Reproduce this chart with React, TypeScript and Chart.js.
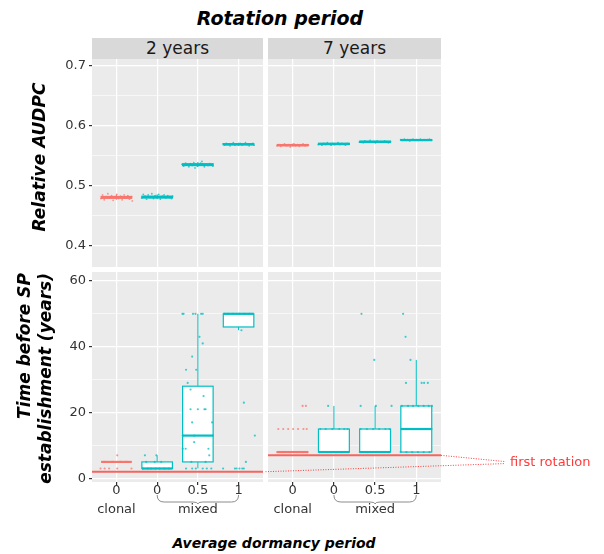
import React, { useEffect, useRef } from "react";
import { Chart, registerables } from "chart.js";

Chart.register(...registerables);

const RED = "#F8766D";
const TEAL = "#00BFC4";
const RED_PT = "rgba(248,118,109,0.75)";
const TEAL_PT = "rgba(0,191,196,0.75)";
const FONT = "'DejaVu Sans', sans-serif";

// ---------- categories / ticks ----------
const categories = [0, 1, 2, 3];
const xTickLabels: (string | string[])[] = [["0", "clonal"], ["0"], ["0.5", "mixed"], ["1"]];
const groupColors = [RED, TEAL, TEAL, TEAL];
const audpcTicks = [0.4, 0.45, 0.5, 0.55, 0.6, 0.65, 0.7];
const audpcMajor = [0.4, 0.5, 0.6, 0.7];
const timeTicks = [0, 10, 20, 30, 40, 50, 60];
const timeMajor = [0, 20, 40, 60];
const firstRotation2 = 2;
const firstRotation7 = 7;

// ---------- Relative AUDPC, 2 years ----------
const audpc2Median = [0.48, 0.4805, 0.5345, 0.5685];
const audpc2Q1 = [0.4785, 0.479, 0.533, 0.5675];
const audpc2Q3 = [0.4815, 0.482, 0.536, 0.5695];
const audpc2Low = [0.476, 0.477, 0.531, 0.566];
const audpc2High = [0.485, 0.485, 0.539, 0.571];
const audpc2Clonal: [number, number][] = [
  [-0.38, 0.478], [-0.34, 0.484], [-0.3, 0.476], [-0.25, 0.481], [-0.21, 0.486], [-0.17, 0.479],
  [-0.12, 0.483], [-0.08, 0.475], [-0.03, 0.481], [0.01, 0.485], [0.05, 0.478], [0.1, 0.482],
  [0.14, 0.476], [0.19, 0.484], [0.23, 0.479], [0.28, 0.483], [0.32, 0.477], [0.37, 0.481], [0.39, 0.474],
];
const audpc2Mixed: [number, number][] = [
  [0.62, 0.479], [0.66, 0.485], [0.7, 0.482], [0.74, 0.477], [0.78, 0.484], [0.83, 0.48], [0.87, 0.486],
  [0.91, 0.478], [0.95, 0.483], [1.0, 0.481], [1.04, 0.485], [1.08, 0.477], [1.13, 0.482], [1.17, 0.484],
  [1.21, 0.479], [1.26, 0.483], [1.3, 0.48], [1.35, 0.478], [1.38, 0.482],
  [1.61, 0.535], [1.65, 0.532], [1.7, 0.537], [1.74, 0.534], [1.78, 0.531], [1.82, 0.536], [1.86, 0.533],
  [1.9, 0.538], [1.95, 0.535], [1.99, 0.532], [2.03, 0.534], [2.07, 0.537], [2.12, 0.536], [2.16, 0.531],
  [2.2, 0.535], [2.25, 0.533], [2.29, 0.536], [2.33, 0.534], [2.37, 0.532], [1.93, 0.529], [2.1, 0.54],
  [2.62, 0.569], [2.66, 0.567], [2.7, 0.57], [2.74, 0.568], [2.79, 0.566], [2.83, 0.569], [2.87, 0.571],
  [2.91, 0.567], [2.96, 0.569], [3.0, 0.568], [3.04, 0.57], [3.09, 0.567], [3.13, 0.569], [3.17, 0.571],
  [3.22, 0.568], [3.26, 0.566], [3.3, 0.569], [3.35, 0.57], [3.38, 0.567],
];

// ---------- Relative AUDPC, 7 years ----------
const audpc7Median = [0.567, 0.569, 0.5725, 0.5755];
const audpc7Q1 = [0.566, 0.568, 0.5715, 0.5748];
const audpc7Q3 = [0.568, 0.57, 0.5735, 0.5762];
const audpc7Low = [0.565, 0.567, 0.571, 0.5745];
const audpc7High = [0.5695, 0.5705, 0.574, 0.5765];
const audpc7Clonal: [number, number][] = [
  [-0.38, 0.566], [-0.33, 0.568], [-0.29, 0.565], [-0.24, 0.567], [-0.2, 0.569], [-0.15, 0.566],
  [-0.11, 0.568], [-0.06, 0.564], [-0.02, 0.567], [0.03, 0.569], [0.07, 0.566], [0.12, 0.568],
  [0.16, 0.565], [0.21, 0.567], [0.25, 0.569], [0.3, 0.566], [0.34, 0.568], [0.38, 0.567],
];
const audpc7Mixed: [number, number][] = [
  [0.62, 0.568], [0.67, 0.569], [0.71, 0.567], [0.75, 0.57], [0.8, 0.568], [0.84, 0.571], [0.88, 0.569],
  [0.93, 0.567], [0.97, 0.57], [1.02, 0.568], [1.06, 0.569], [1.1, 0.571], [1.15, 0.568], [1.19, 0.57],
  [1.24, 0.569], [1.28, 0.567], [1.33, 0.57], [1.37, 0.569],
  [1.62, 0.572], [1.66, 0.573], [1.71, 0.571], [1.75, 0.574], [1.79, 0.572], [1.84, 0.573], [1.88, 0.575],
  [1.92, 0.572], [1.97, 0.573], [2.01, 0.571], [2.05, 0.574], [2.1, 0.572], [2.14, 0.573], [2.19, 0.572],
  [2.23, 0.574], [2.27, 0.573], [2.32, 0.571], [2.37, 0.573],
  [2.62, 0.576], [2.66, 0.575], [2.71, 0.577], [2.75, 0.575], [2.79, 0.576], [2.84, 0.574], [2.88, 0.576],
  [2.92, 0.577], [2.97, 0.575], [3.01, 0.576], [3.05, 0.575], [3.1, 0.577], [3.14, 0.575], [3.19, 0.576],
  [3.23, 0.575], [3.27, 0.576], [3.32, 0.577], [3.37, 0.575],
];

// ---------- Time before SP establishment, 2 years ----------
const time2Median = [5, 3, 13, 50];
const time2Q1 = [5, 3, 5, 46];
const time2Q3 = [5, 5, 28, 50];
const time2Low = [5, 3, 3, 45];
const time2High = [5, 7, 50, 50];
const time2Clonal: [number, number][] = [
  [-0.39, 3], [-0.29, 3], [-0.18, 3], [0.02, 3], [0.37, 3], [0.02, 7],
  [-0.3, 5], [-0.1, 5], [0.1, 5], [0.25, 5],
];
const time2Mixed: [number, number][] = [
  [0.65, 3], [0.77, 3], [0.85, 3], [0.96, 3], [1.06, 3], [1.18, 3], [1.29, 3],
  [0.73, 5], [0.94, 5], [1.1, 5], [0.7, 7], [0.98, 7],
  [1.62, 50], [1.65, 50], [1.88, 50], [1.94, 50], [2.08, 50], [2.12, 50],
  [2.04, 43], [2.12, 41], [1.86, 37], [1.71, 33], [1.96, 33], [1.75, 29], [1.82, 27], [2.14, 25],
  [1.82, 21], [2.0, 21], [2.16, 21], [2.19, 21], [1.86, 17], [2.35, 17],
  [1.63, 13], [1.91, 13], [2.37, 13], [1.91, 11], [1.63, 9], [1.7, 9], [2.26, 9], [2.28, 7],
  [1.84, 5], [2.19, 5], [1.71, 3], [1.86, 3], [1.95, 3], [2.12, 3], [2.22, 3], [2.33, 3],
  [2.65, 50], [2.74, 50], [2.86, 50], [3.02, 50], [3.15, 50], [3.27, 50],
  [3.07, 45], [3.13, 23], [3.4, 13], [3.18, 5],
  [2.62, 3], [2.91, 3], [2.95, 3], [3.02, 3], [3.09, 3], [3.13, 3],
];

// ---------- Time before SP establishment, 7 years ----------
const time7Median = [8, 8, 8, 15];
const time7Q1 = [8, 8, 8, 8];
const time7Q3 = [8, 15, 15, 22];
const time7Low = [8, 8, 8, 8];
const time7High = [8, 22, 22, 36];
const time7Clonal: [number, number][] = [
  [0.24, 22], [0.32, 22],
  [-0.35, 15], [-0.23, 15], [-0.11, 15], [0.01, 15], [0.13, 15], [0.26, 15], [0.34, 15],
  [-0.38, 8], [-0.2, 8], [-0.05, 8], [0.1, 8], [0.25, 8], [0.36, 8],
];
const time7Mixed: [number, number][] = [
  [0.86, 22],
  [0.67, 15], [0.8, 15], [0.96, 15], [1.13, 15], [1.25, 15], [1.33, 15],
  [0.65, 8], [0.85, 8], [1.05, 8], [1.2, 8], [1.35, 8],
  [1.67, 50], [1.98, 36], [1.65, 22], [2.02, 22], [2.4, 22],
  [1.65, 15], [1.8, 15], [1.95, 15], [2.1, 15], [2.25, 15], [2.35, 15],
  [1.63, 8], [1.82, 8], [2.0, 8], [2.18, 8], [2.33, 8],
  [2.68, 50], [2.74, 43], [2.86, 36], [2.75, 29], [3.13, 29], [3.19, 29], [3.28, 29],
  [2.65, 22], [2.8, 22], [2.92, 22], [3.05, 22], [3.18, 22], [3.3, 22], [3.38, 22],
  [2.64, 15], [2.78, 15], [2.9, 15], [3.02, 15], [3.15, 15], [3.28, 15], [3.37, 15],
  [2.62, 8], [2.76, 8], [2.9, 8], [3.04, 8], [3.18, 8], [3.32, 8],
];

// ---------- helpers ----------
type Box = { q1: number[]; med: number[]; q3: number[]; lo: number[]; hi: number[] };

const boxPlugin = {
  id: "boxes",
  beforeDraw(chart: any) {
    const { ctx, chartArea: a } = chart;
    ctx.save();
    ctx.fillStyle = "#EBEBEB";
    ctx.fillRect(a.left, a.top, a.right - a.left, a.bottom - a.top);
    ctx.restore();
  },
  beforeDatasetsDraw(chart: any, _args: any, opts: any) {
    const box: Box = opts.box;
    if (!box) return;
    const { ctx, chartArea: a } = chart;
    const x = chart.scales.x;
    const y = chart.scales.y;
    ctx.save();
    ctx.beginPath();
    ctx.rect(a.left, a.top, a.right - a.left, a.bottom - a.top);
    ctx.clip();
    categories.forEach((c, i) => {
      const col = groupColors[i];
      const cx = x.getPixelForValue(c);
      const hw = x.getPixelForValue(c + 0.375) - cx;
      const yq1 = y.getPixelForValue(box.q1[i]);
      const yq3 = y.getPixelForValue(box.q3[i]);
      const ymed = y.getPixelForValue(box.med[i]);
      const ylo = y.getPixelForValue(box.lo[i]);
      const yhi = y.getPixelForValue(box.hi[i]);
      ctx.strokeStyle = col;
      ctx.lineWidth = 1;
      ctx.beginPath();
      ctx.moveTo(cx, ylo);
      ctx.lineTo(cx, yq1);
      ctx.moveTo(cx, yq3);
      ctx.lineTo(cx, yhi);
      ctx.stroke();
      ctx.fillStyle = "#FFFFFF";
      ctx.fillRect(cx - hw, yq3, 2 * hw, yq1 - yq3);
      ctx.lineWidth = 1.2;
      ctx.strokeRect(cx - hw, yq3, 2 * hw, yq1 - yq3);
      ctx.lineWidth = 2.2;
      ctx.beginPath();
      ctx.moveTo(cx - hw, ymed);
      ctx.lineTo(cx + hw, ymed);
      ctx.stroke();
    });
    ctx.restore();
  },
  afterDraw(chart: any, _args: any, opts: any) {
    const { ctx, chartArea: a } = chart;
    const x = chart.scales.x;
    const y = chart.scales.y;
    if (opts.brace) {
      const x1 = x.getPixelForValue(1);
      const x3 = x.getPixelForValue(3);
      const yt = a.bottom + 13;
      const yb = a.bottom + 20;
      const xm = x.getPixelForValue(2);
      ctx.save();
      ctx.strokeStyle = "#8C8C8C";
      ctx.lineWidth = 1;
      ctx.beginPath();
      ctx.moveTo(x1, yt);
      ctx.quadraticCurveTo(x1, yb, x1 + 7, yb);
      ctx.lineTo(xm - 5, yb);
      ctx.quadraticCurveTo(xm, yb, xm, yb + 2);
      ctx.quadraticCurveTo(xm, yb, xm + 5, yb);
      ctx.lineTo(x3 - 7, yb);
      ctx.quadraticCurveTo(x3, yb, x3, yt);
      ctx.stroke();
      ctx.restore();
    }
    if (opts.annotate) {
      const tx = a.right + 64;
      const ty = y.getPixelForValue(4.8);
      ctx.save();
      ctx.strokeStyle = "#FF3A3A";
      ctx.lineWidth = 1;
      ctx.setLineDash([1, 1.5]);
      ctx.beginPath();
      ctx.moveTo(a.right, y.getPixelForValue(firstRotation7));
      ctx.lineTo(tx, ty - 1);
      ctx.moveTo(a.left - 5, y.getPixelForValue(firstRotation2));
      ctx.lineTo(tx, ty + 1);
      ctx.stroke();
      ctx.setLineDash([]);
      ctx.fillStyle = "#FF3A3A";
      ctx.font = `13px ${FONT}`;
      ctx.textBaseline = "middle";
      ctx.textAlign = "left";
      ctx.fillText("first rotation", tx + 5, ty);
      ctx.restore();
    }
  },
};

function toPts(arr: [number, number][]) {
  return arr.map(([x, y]) => ({ x, y }));
}

function zeroPad(s: any) {
  s.paddingTop = 0;
  s.paddingBottom = 0;
  s.paddingLeft = 0;
  s.paddingRight = 0;
}

function makeConfig(p: {
  ticks: number[];
  major: number[];
  min: number;
  max: number;
  fmt: (v: number) => string;
  showY: boolean;
  showX: boolean;
  box: Box;
  clonal: [number, number][];
  mixed: [number, number][];
  rotation?: number;
  brace?: boolean;
  annotate?: boolean;
  padding?: any;
  radius: number;
}): any {
  const datasets: any[] = [];
  if (p.rotation !== undefined) {
    datasets.push({
      type: "line",
      data: [
        { x: -0.6, y: p.rotation },
        { x: 3.6, y: p.rotation },
      ],
      borderColor: "#F5655F",
      borderWidth: 2,
      pointRadius: 0,
      order: 2,
    });
  }
  datasets.push({
    type: "scatter",
    data: toPts(p.clonal),
    backgroundColor: RED_PT,
    borderWidth: 0,
    pointRadius: p.radius,
    order: 1,
  });
  datasets.push({
    type: "scatter",
    data: toPts(p.mixed),
    backgroundColor: TEAL_PT,
    borderWidth: 0,
    pointRadius: p.radius,
    order: 0,
  });
  return {
    type: "scatter",
    data: { datasets },
    plugins: [boxPlugin],
    options: {
      responsive: false,
      animation: false,
      events: [],
      layout: { padding: p.padding || 0, autoPadding: false },
      plugins: {
        legend: { display: false },
        tooltip: { enabled: false },
        boxes: { box: p.box, brace: p.brace, annotate: p.annotate },
      },
      scales: {
        x: {
          type: "linear",
          min: -0.6,
          max: 3.6,
          afterBuildTicks: (s: any) => {
            s.ticks = categories.map((v) => ({ value: v }));
          },
          afterFit: (s: any) => {
            s.height = p.showX ? 42 : 0;
            zeroPad(s);
          },
          border: { display: false },
          grid: {
            color: "#FFFFFF",
            lineWidth: 1.2,
            drawTicks: p.showX,
            tickLength: 3,
            tickColor: "#333333",
          },
          ticks: {
            display: p.showX,
            autoSkip: false,
            maxRotation: 0,
            padding: -3.5,
            color: "#333333",
            font: { family: FONT, size: 13, lineHeight: 1.46 },
            callback: (_v: any, i: number) => xTickLabels[i],
          },
        },
        y: {
          type: "linear",
          min: p.min,
          max: p.max,
          afterBuildTicks: (s: any) => {
            s.ticks = p.ticks.map((v) => ({ value: v }));
          },
          afterFit: (s: any) => {
            s.width = p.showY ? 92 : 0;
            zeroPad(s);
          },
          border: { display: false },
          grid: {
            color: "#FFFFFF",
            lineWidth: (c: any) => (p.major.includes(c.tick && c.tick.value) ? 1.2 : 0.6),
            drawTicks: p.showY,
            tickLength: 3,
            tickColor: (c: any) => (p.major.includes(c.tick && c.tick.value) ? "#333333" : "rgba(0,0,0,0)"),
          },
          ticks: {
            display: p.showY,
            autoSkip: false,
            padding: 3,
            color: "#333333",
            font: { family: FONT, size: 13 },
            callback: (v: number) => (p.major.includes(v) ? p.fmt(v) : ""),
          },
        },
      },
    },
  };
}

function ChartPanel(props: { left: number; top: number; width: number; height: number; config: () => any }) {
  const ref = useRef<HTMLCanvasElement>(null);
  useEffect(() => {
    const chart = new Chart(ref.current as HTMLCanvasElement, props.config());
    return () => chart.destroy();
  }, []);
  return (
    <canvas
      ref={ref}
      width={props.width}
      height={props.height}
      style={{ position: "absolute", left: props.left, top: props.top, width: props.width, height: props.height }}
    />
  );
}

const audpcFmt = (v: number) => v.toFixed(1);
const timeFmt = (v: number) => String(v);

const titleFont: React.CSSProperties = {
  fontFamily: FONT,
  fontWeight: 700,
  fontStyle: "italic",
  color: "#000",
  whiteSpace: "nowrap",
};

const stripStyle: React.CSSProperties = {
  position: "absolute",
  top: 38,
  height: 21,
  background: "#D9D9D9",
  fontFamily: FONT,
  fontSize: 17,
  lineHeight: "21px",
  textAlign: "center",
  color: "#1A1A1A",
};

export default function App() {
  return (
    <div style={{ position: "fixed", left: 0, top: 0, width: 604, height: 554, background: "#fff", overflow: "hidden" }}>
      <div style={{ ...titleFont, position: "absolute", left: 280, top: 18, fontSize: 19, transform: "translate(-50%,-50%)" }}>
        Rotation period
      </div>
      <div style={{ ...stripStyle, left: 92, width: 171 }}>2 years</div>
      <div style={{ ...stripStyle, left: 268, width: 173 }}>7 years</div>

      <ChartPanel
        left={0}
        top={59}
        width={263}
        height={208}
        config={() =>
          makeConfig({
            ticks: audpcTicks, major: audpcMajor, min: 0.364, max: 0.7105, fmt: audpcFmt,
            showY: true, showX: false,
            box: { q1: audpc2Q1, med: audpc2Median, q3: audpc2Q3, lo: audpc2Low, hi: audpc2High },
            clonal: audpc2Clonal, mixed: audpc2Mixed, radius: 0.9,
          })
        }
      />
      <ChartPanel
        left={268}
        top={59}
        width={173}
        height={208}
        config={() =>
          makeConfig({
            ticks: audpcTicks, major: audpcMajor, min: 0.364, max: 0.7105, fmt: audpcFmt,
            showY: false, showX: false,
            box: { q1: audpc7Q1, med: audpc7Median, q3: audpc7Q3, lo: audpc7Low, hi: audpc7High },
            clonal: audpc7Clonal, mixed: audpc7Mixed, radius: 0.9,
          })
        }
      />
      <ChartPanel
        left={0}
        top={272}
        width={263}
        height={252}
        config={() =>
          makeConfig({
            ticks: timeTicks, major: timeMajor, min: -1.1, max: 62.7, fmt: timeFmt,
            showY: true, showX: true,
            box: { q1: time2Q1, med: time2Median, q3: time2Q3, lo: time2Low, hi: time2High },
            clonal: time2Clonal, mixed: time2Mixed, rotation: firstRotation2, brace: true, radius: 1.1,
          })
        }
      />
      <ChartPanel
        left={264}
        top={272}
        width={340}
        height={252}
        config={() =>
          makeConfig({
            ticks: timeTicks, major: timeMajor, min: -1.1, max: 62.7, fmt: timeFmt,
            showY: false, showX: true,
            box: { q1: time7Q1, med: time7Median, q3: time7Q3, lo: time7Low, hi: time7High },
            clonal: time7Clonal, mixed: time7Mixed, rotation: firstRotation7, brace: true, annotate: true,
            padding: { left: 4, right: 163, top: 0, bottom: 0 }, radius: 1.1,
          })
        }
      />

      <div
        style={{
          ...titleFont,
          position: "absolute",
          left: 38.5,
          top: 157,
          fontSize: 17,
          transform: "translate(-50%,-50%) rotate(-90deg)",
        }}
      >
        Relative AUDPC
      </div>
      <div
        style={{
          ...titleFont,
          position: "absolute",
          left: 34.5,
          top: 379,
          width: 212,
          fontSize: 17,
          lineHeight: "20.7px",
          textAlign: "right",
          transform: "translate(-50%,-50%) rotate(-90deg)",
        }}
      >
        Time before SP
        <br />
        establishment (years)
      </div>
      <div style={{ ...titleFont, position: "absolute", left: 274, top: 543, fontSize: 14, transform: "translate(-50%,-50%)" }}>
        Average dormancy period
      </div>
    </div>
  );
}
